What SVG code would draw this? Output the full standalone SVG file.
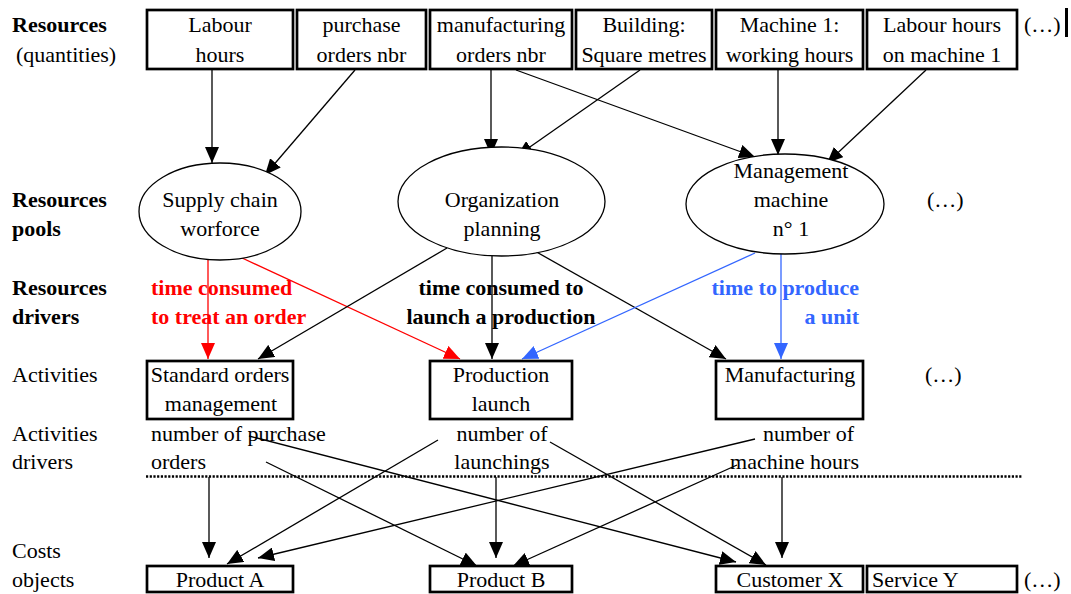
<svg xmlns="http://www.w3.org/2000/svg" width="1071" height="594" viewBox="0 0 1071 594">
<style>
text{font-family:"Liberation Serif","Times New Roman",serif;font-size:22px;fill:#000}
.b{font-weight:bold}
.c{text-anchor:middle}
.e{text-anchor:end}
.red{fill:#ff0000}
.blue{fill:#3366ff}
.box{fill:#fff;stroke:#000;stroke-width:2.7}
.ell{fill:#fff;stroke:#000;stroke-width:1.3}
.k{stroke:#000;stroke-width:1.3;fill:none;marker-end:url(#ak)}
.r{stroke:#ff0000;stroke-width:1.3;fill:none;marker-end:url(#ar)}
.bl{stroke:#3366ff;stroke-width:1.3;fill:none;marker-end:url(#ab)}
</style>
<defs>
<marker id="ak" viewBox="0 0 16 14" refX="16" refY="7" markerWidth="16" markerHeight="14" markerUnits="userSpaceOnUse" orient="auto"><path d="M0,0 L16,7 L0,14 z" fill="#000"/></marker>
<marker id="ar" viewBox="0 0 16 14" refX="16" refY="7" markerWidth="16" markerHeight="14" markerUnits="userSpaceOnUse" orient="auto"><path d="M0,0 L16,7 L0,14 z" fill="#ff0000"/></marker>
<marker id="ab" viewBox="0 0 16 14" refX="16" refY="7" markerWidth="16" markerHeight="14" markerUnits="userSpaceOnUse" orient="auto"><path d="M0,0 L16,7 L0,14 z" fill="#3366ff"/></marker>
</defs>
<rect width="1071" height="594" fill="#fff"/>

<g id="row-labels">
<text class="b" x="12" y="32">Resources</text>
<text x="16" y="62">(quantities)</text>
<text class="b" x="12" y="207">Resources</text>
<text class="b" x="12" y="236">pools</text>
<text class="b" x="12" y="295">Resources</text>
<text class="b" x="12" y="324">drivers</text>
<text x="12" y="382">Activities</text>
<text x="12" y="441">Activities</text>
<text x="12" y="469">drivers</text>
<text x="12" y="558">Costs</text>
<text x="12" y="587">objects</text>
</g>

<g id="connectors">
<line class="k" x1="212" y1="70" x2="212" y2="163"/>
<line class="k" x1="355" y1="70" x2="265" y2="175"/>
<line class="k" x1="491" y1="70" x2="491" y2="155"/>
<line class="k" x1="516" y1="70" x2="755" y2="157"/>
<line class="k" x1="640" y1="70" x2="517" y2="156"/>
<line class="k" x1="778" y1="70" x2="778" y2="155"/>
<line class="k" x1="926" y1="70" x2="827" y2="163"/>
<line class="r" x1="208" y1="260" x2="208" y2="359"/>
<line class="r" x1="240" y1="257" x2="460" y2="359"/>
<line class="k" x1="447" y1="248" x2="258" y2="359"/>
<line class="k" x1="492" y1="256" x2="492" y2="359"/>
<line class="k" x1="533" y1="250" x2="726" y2="359"/>
<line class="bl" x1="755" y1="253" x2="522" y2="359"/>
<line class="bl" x1="781" y1="254" x2="781" y2="359"/>
<line x1="146" y1="476.5" x2="1022" y2="476.5" stroke="#000" stroke-width="2.5" stroke-dasharray="2.2 1.5"/>
<line class="k" x1="209" y1="477" x2="209" y2="558"/>
<line class="k" x1="438" y1="440" x2="227" y2="564"/>
<line class="k" x1="755" y1="439" x2="258" y2="558"/>
<line class="k" x1="266" y1="462" x2="477" y2="566"/>
<line class="k" x1="496" y1="477" x2="496" y2="558"/>
<line class="k" x1="737" y1="465" x2="513" y2="566"/>
<line class="k" x1="249" y1="436" x2="736" y2="562"/>
<line class="k" x1="550" y1="442" x2="766" y2="565"/>
<line class="k" x1="782" y1="477" x2="782" y2="558"/>
</g>

<g id="res-labour"><rect class="box" x="147" y="10" width="146" height="59"/><text class="c" x="220" y="32">Labour</text><text class="c" x="220" y="62">hours</text></g>
<g id="res-purchase"><rect class="box" x="297" y="10" width="129" height="59"/><text class="c" x="361.5" y="32">purchase</text><text class="c" x="361.5" y="62">orders nbr</text></g>
<g id="res-manuf"><rect class="box" x="430" y="10" width="142" height="59"/><text class="c" x="501" y="32">manufacturing</text><text class="c" x="501" y="62">orders nbr</text></g>
<g id="res-building"><rect class="box" x="576" y="10" width="136" height="59"/><text class="c" x="644" y="32">Building:</text><text class="c" x="644" y="62">Square metres</text></g>
<g id="res-machine"><rect class="box" x="716" y="10" width="147" height="59"/><text class="c" x="789.5" y="32">Machine 1:</text><text class="c" x="789.5" y="62">working hours</text></g>
<g id="res-labour-m1"><rect class="box" x="867" y="10" width="150" height="59"/><text class="c" x="942" y="32">Labour hours</text><text class="c" x="942" y="62">on machine 1</text></g>
<g id="res-more"><text x="1024" y="32">(…)</text><line x1="1066.5" y1="8" x2="1066.5" y2="37" stroke="#000" stroke-width="3"/></g>

<g id="pool-supply"><ellipse class="ell" cx="220" cy="211.5" rx="81" ry="48.5"/><text class="c" x="220" y="207">Supply chain</text><text class="c" x="220" y="236">worforce</text></g>
<g id="pool-org"><ellipse class="ell" cx="501.5" cy="201.5" rx="103.5" ry="54.5"/><text class="c" x="502" y="207">Organization</text><text class="c" x="502" y="236">planning</text></g>
<g id="pool-mgmt"><ellipse class="ell" cx="785" cy="204" rx="99" ry="50"/><text class="c" x="791" y="178">Management</text><text class="c" x="791" y="207">machine</text><text class="c" x="791" y="236">n° 1</text></g>
<g id="pool-more"><text x="927" y="207">(…)</text></g>

<g id="drv-order"><text class="b red" x="151" y="295">time consumed</text><text class="b red" x="151" y="324">to treat an order</text></g>
<g id="drv-launch"><text class="b c" x="501" y="295">time consumed to</text><text class="b c" x="501" y="324">launch a production</text></g>
<g id="drv-unit"><text class="b blue e" x="859" y="295">time to produce</text><text class="b blue e" x="859" y="324">a unit</text></g>

<g id="act-standard"><rect class="box" x="147" y="361" width="146" height="58"/><text class="c" x="220" y="382">Standard orders</text><text class="c" x="221" y="411">management</text></g>
<g id="act-launch"><rect class="box" x="430" y="361" width="142" height="58"/><text class="c" x="501" y="382">Production</text><text class="c" x="501" y="411">launch</text></g>
<g id="act-manuf"><rect class="box" x="716" y="361" width="147" height="58"/><text class="c" x="790" y="382">Manufacturing</text></g>
<g id="act-more"><text x="925" y="382">(…)</text></g>

<g id="adrv-purchase"><text x="151" y="441">number of purchase</text><text x="151" y="469">orders</text></g>
<g id="adrv-launch"><text class="c" x="502" y="441">number of</text><text class="c" x="502" y="469">launchings</text></g>
<g id="adrv-machine"><text class="e" x="854" y="441">number of</text><text class="e" x="859" y="469">machine hours</text></g>

<g id="obj-a"><rect class="box" x="147" y="566" width="146" height="26"/><text class="c" x="220" y="587">Product A</text></g>
<g id="obj-b"><rect class="box" x="430" y="566" width="142" height="26"/><text class="c" x="501" y="587">Product B</text></g>
<g id="obj-x"><rect class="box" x="716" y="566" width="147" height="26"/><text class="c" x="790" y="587">Customer X</text></g>
<g id="obj-y"><rect class="box" x="867" y="566" width="150" height="26"/><text x="872" y="587">Service Y</text></g>
<g id="obj-more"><text x="1024" y="587">(…)</text></g>
</svg>
